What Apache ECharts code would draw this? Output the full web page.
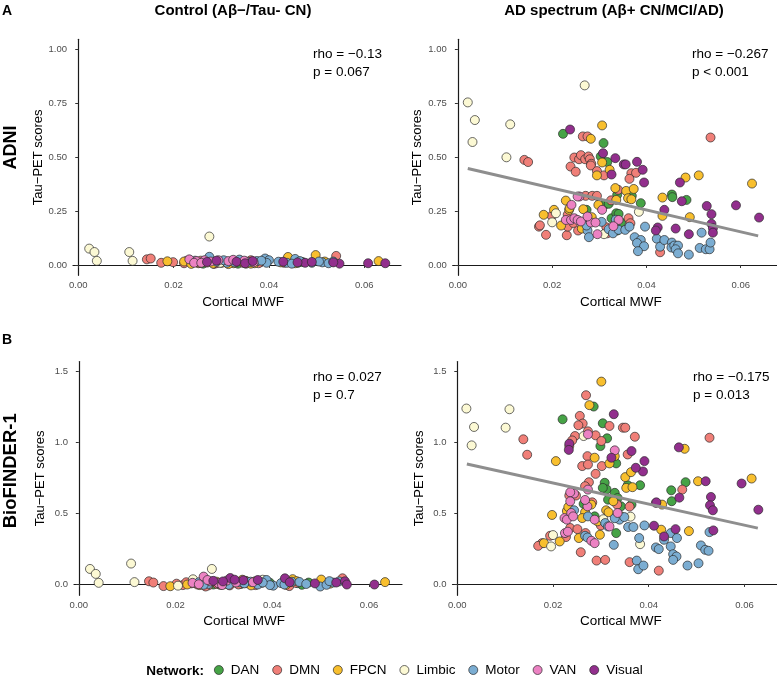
<!DOCTYPE html>
<html>
<head>
  <meta charset="utf-8">
  <title>Cortical MWF vs Tau-PET</title>
  <script src="https://cdn.jsdelivr.net/npm/echarts@6/dist/echarts.min.js"></script>
</head>
<body style="margin:0">
  <div id="main" style="width:777px;height:677px;"></div>
  <script>
    // networks + colours
    var networks = ['DAN', 'DMN', 'FPCN', 'Limbic', 'Motor', 'VAN', 'Visual'];
    var netColors = ['#46a346', '#f07f78', '#f8bf2e', '#fcf9d4', '#7badd2', '#ec82c3', '#922f8d'];

    var xTicks = [0, 0.02, 0.04, 0.06];
    var yTicksADNI = [0, 0.25, 0.5, 0.75, 1];
    var yTicksBF = [0, 0.5, 1, 1.5];

    // ---- ADNI, control ----
    var adniCtrlDAN = [[0.0262,0.006],[0.0300,0.010],[0.0322,0.015],[0.0335,0.006],[0.0352,0.016],[0.0461,0.010],[0.0470,0.014],[0.0392,0.020],[0.0284,0.016],[0.0448,0.016]];
    var adniCtrlDMN = [[0.0144,0.026],[0.0152,0.030],[0.0174,0.010],[0.0199,0.013],[0.0228,0.020],[0.0240,0.012],[0.0252,0.008],[0.0262,0.016],[0.0270,0.011],[0.0284,0.012],[0.0296,0.014],[0.0310,0.016],[0.0318,0.010],[0.0330,0.012],[0.0345,0.010],[0.0362,0.022],[0.0372,0.015],[0.0382,0.012],[0.0432,0.010],[0.0446,0.013],[0.0541,0.042],[0.0285,0.005],[0.0222,0.008],[0.0257,0.020],[0.0290,0.008],[0.0325,0.018],[0.0352,0.006],[0.0378,0.008]];
    var adniCtrlFPCN = [[0.0187,0.017],[0.0222,0.016],[0.0237,0.005],[0.0256,0.010],[0.0283,0.006],[0.0304,0.012],[0.0326,0.008],[0.0340,0.020],[0.0355,0.012],[0.0370,0.008],[0.0440,0.037],[0.0498,0.046],[0.0517,0.016],[0.0630,0.018],[0.0425,0.012],[0.0246,0.014],[0.0315,0.004],[0.0345,0.015],[0.0362,0.006],[0.0455,0.008]];
    var adniCtrlLimbic = [[0.0023,0.076],[0.0034,0.060],[0.0039,0.019],[0.0107,0.060],[0.0114,0.019],[0.0275,0.132],[0.0391,0.018],[0.0298,0.010]];
    var adniCtrlMotor = [[0.0275,0.038],[0.0245,0.020],[0.0290,0.015],[0.0312,0.010],[0.0338,0.025],[0.0360,0.014],[0.0375,0.018],[0.0392,0.030],[0.0400,0.022],[0.0420,0.015],[0.0438,0.010],[0.0455,0.028],[0.0465,0.018],[0.0490,0.010],[0.0512,0.012],[0.0525,0.008],[0.0535,0.016],[0.0395,0.010],[0.0305,0.022],[0.0328,0.012],[0.0384,0.020],[0.0448,0.006],[0.0505,0.016]];
    var adniCtrlVAN = [[0.0233,0.026],[0.0248,0.018],[0.0265,0.022],[0.0278,0.016],[0.0294,0.022],[0.0315,0.018],[0.0348,0.020],[0.0368,0.012],[0.0243,0.010],[0.0258,0.010],[0.0325,0.024]];
    var adniCtrlVisual = [[0.0290,0.020],[0.0332,0.015],[0.0350,0.008],[0.0430,0.015],[0.0476,0.010],[0.0490,0.014],[0.0548,0.006],[0.0608,0.008],[0.0644,0.008],[0.0535,0.012],[0.0270,0.014],[0.0366,0.018],[0.0460,0.012]];

    // ---- ADNI, AD spectrum ----
    var adniAdDAN = [[0.0223,0.609],[0.0309,0.566],[0.0303,0.504],[0.0317,0.478],[0.0454,0.327],[0.0455,0.315],[0.0485,0.302],[0.0273,0.256],[0.0281,0.206],[0.0312,0.281],[0.0320,0.284],[0.0338,0.326],[0.0369,0.321],[0.0388,0.287],[0.0326,0.217],[0.0336,0.240],[0.0341,0.237],[0.0338,0.160],[0.0346,0.197]];
    var adniAdDMN = [[0.0536,0.592],[0.0265,0.597],[0.0275,0.597],[0.0247,0.499],[0.0257,0.491],[0.0261,0.510],[0.0270,0.491],[0.0277,0.504],[0.0280,0.491],[0.0283,0.470],[0.0282,0.462],[0.0239,0.457],[0.0250,0.433],[0.0295,0.436],[0.0310,0.416],[0.0368,0.426],[0.0378,0.428],[0.0364,0.400],[0.0141,0.488],[0.0149,0.478],[0.0429,0.059],[0.0172,0.178],[0.0174,0.184],[0.0187,0.140],[0.0199,0.228],[0.0231,0.138],[0.0233,0.178],[0.0233,0.233],[0.0271,0.321],[0.0285,0.321],[0.0295,0.321],[0.0255,0.160],[0.0315,0.175],[0.0317,0.147],[0.0362,0.217],[0.0366,0.194],[0.0340,0.349],[0.0245,0.195],[0.0325,0.300]];
    var adniAdFPCN = [[0.0306,0.648],[0.0282,0.586],[0.0306,0.476],[0.0295,0.416],[0.0322,0.442],[0.0483,0.406],[0.0511,0.416],[0.0624,0.378],[0.0434,0.313],[0.0434,0.228],[0.0492,0.222],[0.0182,0.233],[0.0204,0.256],[0.0219,0.183],[0.0229,0.299],[0.0236,0.256],[0.0237,0.264],[0.0266,0.259],[0.0263,0.169],[0.0284,0.222],[0.0298,0.279],[0.0334,0.357],[0.0357,0.344],[0.0373,0.353],[0.0336,0.302],[0.0361,0.310],[0.0368,0.305]];
    var adniAdLimbic = [[0.0021,0.755],[0.0036,0.673],[0.0031,0.571],[0.0111,0.653],[0.0103,0.500],[0.0269,0.834],[0.0200,0.198],[0.0208,0.240],[0.0310,0.143],[0.0384,0.247]];
    var adniAdMotor = [[0.0397,0.178],[0.0517,0.150],[0.0375,0.129],[0.0388,0.116],[0.0380,0.102],[0.0395,0.087],[0.0382,0.064],[0.0422,0.122],[0.0429,0.085],[0.0438,0.116],[0.0454,0.104],[0.0453,0.081],[0.0459,0.090],[0.0467,0.090],[0.0462,0.073],[0.0467,0.054],[0.0490,0.048],[0.0513,0.079],[0.0526,0.073],[0.0534,0.073],[0.0536,0.104],[0.0275,0.160],[0.0278,0.129],[0.0320,0.166],[0.0329,0.147],[0.0341,0.163],[0.0355,0.163],[0.0364,0.178],[0.0273,0.183],[0.0335,0.210],[0.0305,0.200]];
    var adniAdVAN = [[0.0229,0.209],[0.0240,0.209],[0.0247,0.217],[0.0254,0.209],[0.0261,0.202],[0.0241,0.279],[0.0258,0.318],[0.0254,0.318],[0.0282,0.197],[0.0292,0.197],[0.0306,0.256],[0.0341,0.209],[0.0296,0.143],[0.0275,0.225],[0.0330,0.180]];
    var adniAdVisual = [[0.0238,0.629],[0.0308,0.519],[0.0334,0.496],[0.0352,0.467],[0.0356,0.467],[0.0380,0.479],[0.0326,0.420],[0.0392,0.442],[0.0395,0.383],[0.0471,0.383],[0.0590,0.277],[0.0639,0.220],[0.0528,0.274],[0.0538,0.236],[0.0538,0.191],[0.0541,0.171],[0.0541,0.150],[0.0475,0.296],[0.0438,0.256],[0.0462,0.169],[0.0490,0.143],[0.0424,0.174],[0.0420,0.160]];

    // ---- BioFINDER-1, control ----
    var bfCtrlDAN = [[0.0250,0.002],[0.0296,0.006],[0.0315,0.014],[0.0335,0.000],[0.0345,0.022],[0.0461,-0.006],[0.0475,0.010],[0.0395,0.008],[0.0278,-0.004],[0.0452,0.006]];
    var bfCtrlDMN = [[0.0145,0.019],[0.0154,0.010],[0.0175,-0.015],[0.0202,0.002],[0.0215,-0.008],[0.0232,0.004],[0.0245,-0.004],[0.0255,0.010],[0.0268,-0.010],[0.0280,0.012],[0.0292,-0.006],[0.0305,0.008],[0.0318,0.020],[0.0330,-0.004],[0.0342,0.010],[0.0358,0.006],[0.0372,0.018],[0.0385,0.024],[0.0435,-0.015],[0.0448,0.008],[0.0545,0.040],[0.0262,-0.018],[0.0222,0.012],[0.0286,0.000],[0.0312,-0.010],[0.0348,0.016],[0.0365,-0.008]];
    var bfCtrlFPCN = [[0.0189,-0.016],[0.0224,-0.004],[0.0240,0.010],[0.0262,0.004],[0.0285,0.016],[0.0300,-0.002],[0.0322,0.012],[0.0338,0.030],[0.0350,0.004],[0.0365,0.020],[0.0442,0.034],[0.0501,0.031],[0.0519,0.002],[0.0633,0.013],[0.0428,-0.006],[0.0250,-0.008],[0.0310,0.018],[0.0356,-0.010],[0.0378,0.008],[0.0450,0.020]];
    var bfCtrlLimbic = [[0.0023,0.106],[0.0035,0.071],[0.0041,0.008],[0.0108,0.144],[0.0115,0.013],[0.0275,0.106],[0.0236,0.033],[0.0380,0.030],[0.0205,-0.012]];
    var bfCtrlMotor = [[0.0248,0.012],[0.0268,0.000],[0.0290,0.004],[0.0310,-0.006],[0.0332,0.012],[0.0355,0.016],[0.0370,-0.004],[0.0388,0.028],[0.0402,-0.012],[0.0418,0.006],[0.0440,0.016],[0.0456,0.014],[0.0470,0.000],[0.0499,-0.018],[0.0512,-0.006],[0.0525,0.010],[0.0538,0.018],[0.0395,-0.008],[0.0258,-0.006],[0.0300,0.014],[0.0342,0.004],[0.0380,0.010],[0.0425,-0.004],[0.0518,0.020]];
    var bfCtrlVAN = [[0.0258,0.052],[0.0235,0.008],[0.0248,-0.002],[0.0272,0.018],[0.0288,0.006],[0.0306,0.024],[0.0325,0.010],[0.0360,0.012],[0.0266,0.028],[0.0296,-0.008]];
    var bfCtrlVisual = [[0.0313,0.042],[0.0298,0.018],[0.0340,0.026],[0.0426,0.040],[0.0436,0.012],[0.0488,0.004],[0.0550,0.019],[0.0554,-0.004],[0.0611,-0.004],[0.0532,0.010],[0.0278,0.022],[0.0322,0.030],[0.0370,0.028]];

    // ---- BioFINDER-1, AD spectrum ----
    var bfAdDAN = [[0.0220,1.162],[0.0285,1.252],[0.0304,1.134],[0.0313,1.028],[0.0299,0.973],[0.0308,0.714],[0.0312,0.667],[0.0304,0.678],[0.0315,0.595],[0.0332,0.851],[0.0329,0.643],[0.0335,0.607],[0.0342,0.548],[0.0364,0.560],[0.0356,0.697],[0.0382,0.697],[0.0447,0.661],[0.0448,0.584],[0.0477,0.718],[0.0332,0.359],[0.0264,0.565],[0.0287,0.477]];
    var bfAdDMN = [[0.0138,1.021],[0.0146,0.912],[0.0527,1.032],[0.0269,1.332],[0.0256,1.186],[0.0262,1.132],[0.0253,1.120],[0.0246,1.044],[0.0240,1.013],[0.0273,1.077],[0.0289,1.049],[0.0301,1.009],[0.0302,0.832],[0.0318,1.115],[0.0346,1.103],[0.0351,1.103],[0.0371,1.039],[0.0356,0.914],[0.0272,0.902],[0.0261,0.832],[0.0273,0.843],[0.0289,0.777],[0.0275,0.718],[0.0267,0.690],[0.0234,0.624],[0.0248,0.624],[0.0234,0.973],[0.0177,0.288],[0.0169,0.269],[0.0194,0.340],[0.0227,0.331],[0.0236,0.395],[0.0251,0.387],[0.0258,0.224],[0.0268,0.359],[0.0291,0.165],[0.0309,0.170],[0.0360,0.154],[0.0421,0.094],[0.0334,0.560],[0.0470,0.666],[0.0282,0.576],[0.0300,0.413],[0.0360,0.546]];
    var bfAdFPCN = [[0.0301,1.428],[0.0276,1.262],[0.0206,0.867],[0.0287,0.891],[0.0329,0.902],[0.0318,0.851],[0.0351,0.754],[0.0363,0.789],[0.0353,0.678],[0.0366,0.683],[0.0475,0.954],[0.0503,0.725],[0.0615,0.744],[0.0484,0.373],[0.0426,0.383],[0.0428,0.560],[0.0326,0.584],[0.0311,0.520],[0.0316,0.506],[0.0267,0.506],[0.0280,0.560],[0.0293,0.442],[0.0261,0.465],[0.0229,0.515],[0.0232,0.543],[0.0254,0.324],[0.0214,0.300],[0.0198,0.487],[0.0181,0.288],[0.0298,0.347],[0.0342,0.477]];
    var bfAdLimbic = [[0.0019,1.238],[0.0035,1.108],[0.0030,0.978],[0.0109,1.233],[0.0101,1.103],[0.0264,1.044],[0.0200,0.345],[0.0196,0.265],[0.0382,0.281],[0.0305,0.457],[0.0362,0.475]];
    var bfAdMotor = [[0.0244,0.520],[0.0273,0.477],[0.0267,0.340],[0.0272,0.328],[0.0309,0.430],[0.0315,0.406],[0.0327,0.276],[0.0339,0.454],[0.0349,0.472],[0.0357,0.402],[0.0368,0.402],[0.0391,0.413],[0.0380,0.324],[0.0375,0.165],[0.0378,0.104],[0.0389,0.130],[0.0415,0.258],[0.0421,0.246],[0.0432,0.312],[0.0446,0.359],[0.0446,0.265],[0.0451,0.210],[0.0458,0.194],[0.0451,0.170],[0.0459,0.324],[0.0481,0.130],[0.0504,0.146],[0.0509,0.272],[0.0518,0.241],[0.0525,0.234],[0.0527,0.366],[0.0329,0.464]];
    var bfAdVAN = [[0.0273,1.056],[0.0329,0.943],[0.0244,0.638],[0.0236,0.647],[0.0236,0.583],[0.0273,0.666],[0.0224,0.465],[0.0229,0.454],[0.0238,0.501],[0.0242,0.477],[0.0272,0.548],[0.0287,0.454],[0.0318,0.406],[0.0335,0.501],[0.0280,0.305],[0.0287,0.288],[0.0225,0.359],[0.0415,0.572],[0.0267,0.593],[0.0231,0.369]];
    var bfAdVisual = [[0.0234,0.990],[0.0233,0.946],[0.0327,1.198],[0.0322,0.891],[0.0364,0.938],[0.0391,0.867],[0.0388,0.794],[0.0373,0.820],[0.0463,0.964],[0.0464,0.609],[0.0456,0.387],[0.0594,0.709],[0.0629,0.524],[0.0519,0.725],[0.0530,0.614],[0.0528,0.555],[0.0534,0.520],[0.0535,0.378],[0.0411,0.411],[0.0432,0.335],[0.0416,0.576]];

    // linear fit ends (AD panels)
    var fitADNI = [[0.0021,0.448],[0.0637,0.135]];
    var fitBF = [[0.0020,0.846],[0.0628,0.394]];

    var panels = [
      [adniCtrlDAN, adniCtrlDMN, adniCtrlFPCN, adniCtrlLimbic, adniCtrlMotor, adniCtrlVAN, adniCtrlVisual],
      [adniAdDAN, adniAdDMN, adniAdFPCN, adniAdLimbic, adniAdMotor, adniAdVAN, adniAdVisual],
      [bfCtrlDAN, bfCtrlDMN, bfCtrlFPCN, bfCtrlLimbic, bfCtrlMotor, bfCtrlVAN, bfCtrlVisual],
      [bfAdDAN, bfAdDMN, bfAdFPCN, bfAdLimbic, bfAdMotor, bfAdVAN, bfAdVisual]
    ];

    var FONT = 'Liberation Sans, Arial, Helvetica, sans-serif';
    var myChart = echarts.init(document.getElementById('main'));

    function xAx(i, lo, hi, gap) {
      return {
        type: 'value', gridIndex: i, min: lo, max: hi,
        name: 'Cortical MWF', nameLocation: 'middle', nameGap: gap,
        nameTextStyle: { color: '#000', fontSize: 13.5, fontFamily: FONT, padding: [0, 0, 0, 12] },
        axisLine: { lineStyle: { color: '#1a1a1a', width: 1.2 } },
        axisTick: { length: 3, lineStyle: { color: '#333' }, customValues: xTicks },
        axisLabel: { color: '#4d4d4d', fontSize: 9.5, fontFamily: FONT, margin: 5, customValues: xTicks,
          formatter: function (v) { return v.toFixed(2); } },
        splitLine: { show: false }
      };
    }
    function yAx(i, lo, hi, ticks, dec) {
      return {
        type: 'value', gridIndex: i, min: lo, max: hi,
        name: 'Tau\u2212PET scores', nameLocation: 'middle', nameGap: 27,
        nameTextStyle: { color: '#000', fontSize: 13, fontFamily: FONT },
        axisLine: { show: true, lineStyle: { color: '#1a1a1a', width: 1.2 } },
        axisTick: { show: true, length: 3, lineStyle: { color: '#333' }, customValues: ticks },
        axisLabel: { color: '#4d4d4d', fontSize: 9.5, fontFamily: FONT, margin: 6, customValues: ticks,
          formatter: function (v) { return v.toFixed(dec); } },
        splitLine: { show: false }
      };
    }

    var series = [];
    panels.forEach(function (panel, p) {
      panel.forEach(function (pts, k) {
        series.push({
          name: networks[k], type: 'scatter', xAxisIndex: p, yAxisIndex: p,
          data: pts, symbolSize: 9, z: 2,
          itemStyle: { color: netColors[k], borderColor: '#2b2b2b', borderWidth: 0.7, opacity: 1 }
        });
      });
    });
    [[1, fitADNI], [3, fitBF]].forEach(function (f) {
      series.push({
        type: 'line', xAxisIndex: f[0], yAxisIndex: f[0], data: f[1],
        showSymbol: false, symbol: 'none', z: 5,
        lineStyle: { color: '#8e8e8e', width: 3 }
      });
    });

    function txt(s, x, y, size, bold, align, rot) {
      return {
        type: 'text', x: x, y: y, rotation: rot || 0, z: 10,
        style: { text: s, fill: '#000', fontSize: size, fontWeight: bold ? 'bold' : 'normal',
          fontFamily: FONT, textAlign: align || 'left', textVerticalAlign: 'middle' }
      };
    }

    var option = {
      animation: false,
      backgroundColor: '#fff',
      grid: [
        { left: 73, top: 39.3, width: 328, height: 236 },
        { left: 452.7, top: 39.3, width: 328, height: 236 },
        { left: 74, top: 361.5, width: 328, height: 233.8 },
        { left: 452.5, top: 361.5, width: 328, height: 233.8 }
      ],
      xAxis: [
        xAx(0, -0.0011, 0.0677, 20), xAx(1, -0.0011, 0.0677, 20),
        xAx(2, -0.001, 0.0668, 19), xAx(3, -0.001, 0.0668, 19)
      ],
      yAxis: [
        yAx(0, -0.048, 1.048, yTicksADNI, 2), yAx(1, -0.048, 1.048, yTicksADNI, 2),
        yAx(2, -0.08, 1.57, yTicksBF, 1), yAx(3, -0.08, 1.57, yTicksBF, 1)
      ],
      legend: {
        data: networks, left: 214, top: 663, padding: 0, icon: 'circle',
        itemWidth: 14, itemHeight: 9, itemGap: 13,
        itemStyle: { borderColor: '#2b2b2b', borderWidth: 0.7 },
        textStyle: { fontSize: 13.5, fontFamily: FONT, color: '#000' }
      },
      graphic: [
        txt('A', 2, 11, 14, true),
        txt('B', 2, 340.5, 14, true),
        txt('Control (A\u03b2\u2212/Tau- CN)', 233, 11, 15, true, 'center'),
        txt('AD spectrum (A\u03b2+ CN/MCI/AD)', 614, 11, 15, true, 'center'),
        txt('ADNI', 11.5, 147.5, 18, true, 'center', Math.PI / 2),
        txt('BioFINDER-1', 11, 470.8, 18.5, true, 'center', Math.PI / 2),
        txt('rho = \u22120.13', 313, 54, 13.5),
        txt('p = 0.067', 313, 72, 13.5),
        txt('rho = \u22120.267', 692, 54, 13.5),
        txt('p < 0.001', 692, 72, 13.5),
        txt('rho = 0.027', 313, 377.5, 13.5),
        txt('p = 0.7', 313, 395, 13.5),
        txt('rho = \u22120.175', 693, 377.5, 13.5),
        txt('p = 0.013', 693, 395, 13.5),
        txt('Network:', 204, 671.7, 13.5, true, 'right')
      ],
      series: series
    };

    myChart.setOption(option);
  </script>
</body>
</html>
